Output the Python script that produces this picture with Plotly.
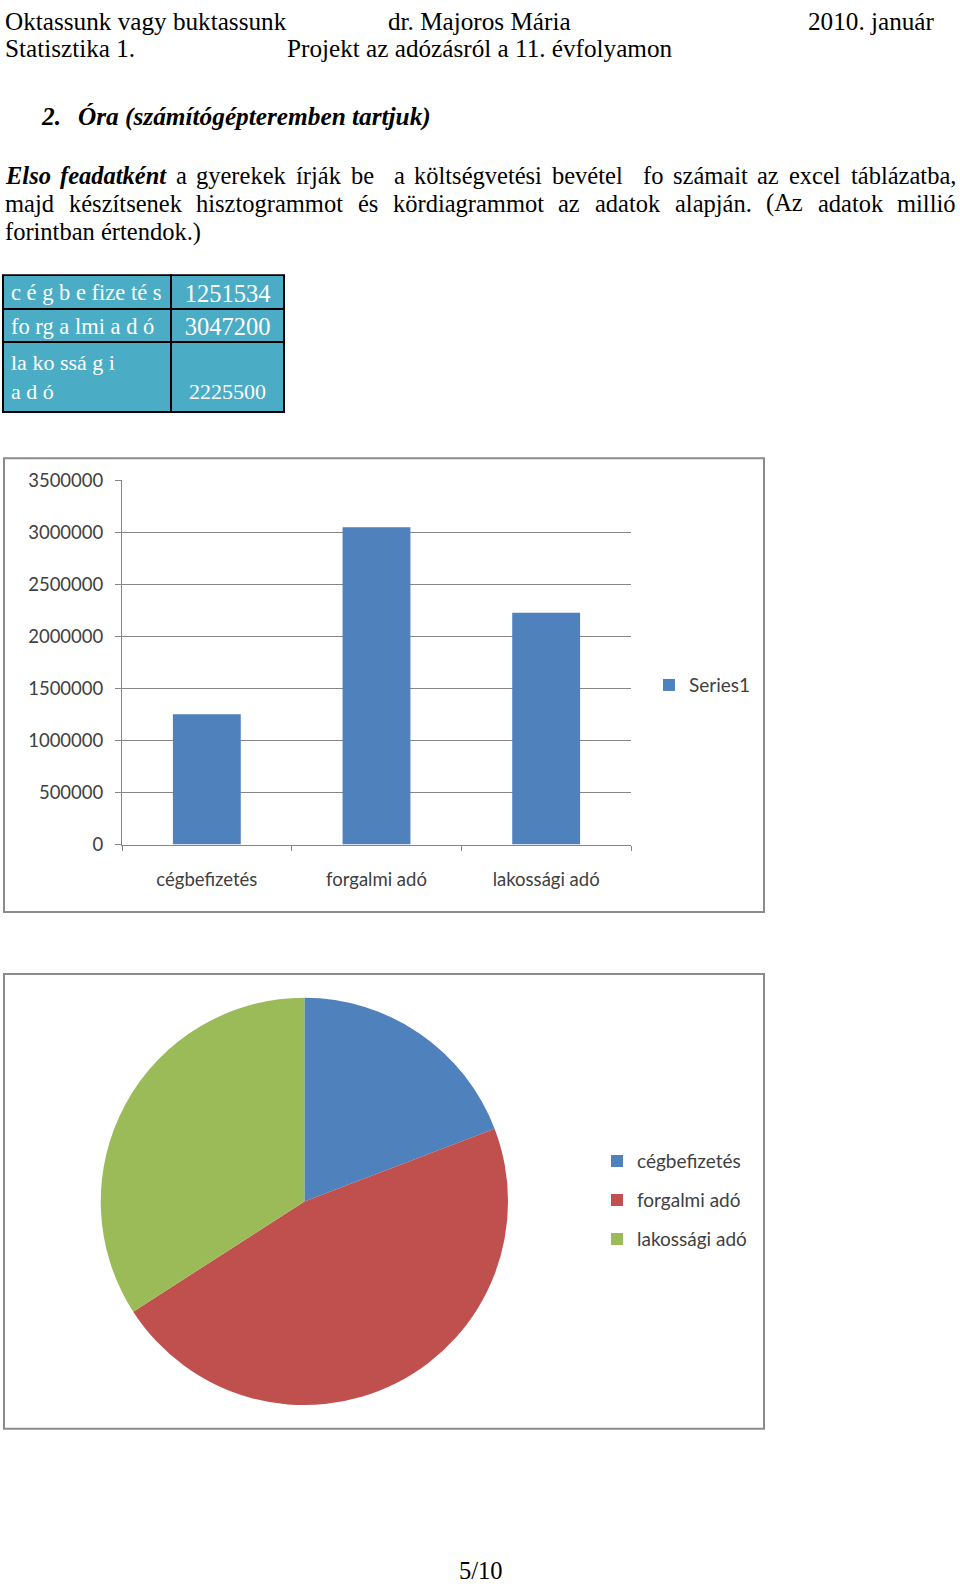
import plotly.graph_objects as go

W, H = 960, 1591

# ---------------- data ----------------
categories = ["cégbefizetés", "forgalmi adó", "lakossági adó"]
values = [1251534, 3047200, 2225500]
series_name = "Series1"
y_tick_values = [0, 500000, 1000000, 1500000, 2000000, 2500000, 3000000, 3500000]
table_labels = ["c é g b e fize té s", "fo rg a lmi a d ó", "la ko ssá g i<br>a d ó"]
table_values = ["1251534", "3047200", "2225500"]
table_value_lines = [1, 1, 2]          # line on which each value sits
bar_color = "#4F81BD"
slice_colors = ["#4F81BD", "#C0504D", "#9BBB59"]

header_line1 = ["Oktassunk vagy buktassunk", "dr. Majoros Mária", "2010. január"]
header_line2 = ["Statisztika 1.", "Projekt az adózásról a 11. évfolyamon"]
title_num = "2."
title_text = "Óra (számítógépteremben tartjuk)"
para_line1 = [("Elso", "bi"), ("feadatként", "bi"), ("a", "r"), ("gyerekek", "r"), ("írják", "r"),
              ("be", "r"), ("", "r"), ("a", "r"), ("költségvetési", "r"), ("bevétel", "r"), ("", "r"),
              ("fo", "r"), ("számait", "r"), ("az", "r"), ("excel", "r"), ("táblázatba,", "r")]
para_line2 = "majd készítsenek hisztogrammot és kördiagrammot az adatok alapján. (Az adatok millió"
para_line3 = "forintban értendok.)"
page_label = "5/10"

# ---------------- helpers ----------------
SERIF = "Liberation Serif, Times New Roman, serif"
SANS = "Lato, Calibri, sans-serif"
TXT = "#404040"
GRID = "#868686"

ROMAN = {' ': 250, ',': 250, '.': 250, '(': 333, ')': 333, '/': 278,
         'A': 722, 'E': 611, 'M': 889, 'O': 722, 'P': 556, 'S': 556, 'Ó': 722,
         'a': 444, 'b': 500, 'c': 444, 'd': 500, 'e': 444, 'f': 333, 'g': 500, 'h': 500,
         'i': 278, 'j': 278, 'k': 500, 'l': 278, 'm': 778, 'n': 500, 'o': 500, 'p': 500,
         'q': 500, 'r': 333, 's': 389, 't': 278, 'u': 500, 'v': 500, 'w': 722, 'x': 500,
         'y': 500, 'z': 444, 'á': 444, 'é': 444, 'í': 278, 'ó': 500, 'ö': 500, 'ő': 500,
         'ú': 500, 'ü': 500, 'ű': 500}
for d in "0123456789":
    ROMAN[d] = 500
BOLDITALIC = {' ': 250, 'E': 667, 'l': 278, 's': 389, 'o': 500, 'f': 333, 'e': 444, 'a': 500,
              'd': 500, 't': 278, 'k': 500, 'é': 444, 'n': 556}

# observed vertical mapping of the capture: shown_y = OFF + SC * figure_y
OFF, SC = 11.67, 0.9865


def text_width(s, size, metrics):
    return sum(metrics.get(ch, 500) for ch in s) * size / 1000.0


def px(x):
    return x / W


def fy(y, lo=13.5, hi=H - 14.5):
    """figure-pixel y that lands on wanted page y, kept inside the figure"""
    return min(max((y - OFF) / SC, lo), hi)


def py(y, lo=0.0, hi=float(H)):
    return 1 - fy(y, lo, hi) / H


annotations = []


def add_text(x, y, text, size=24.5, family=SERIF, color="black", anchor="left", raw=False):
    yy = 1 - y / H if raw else py(y, 13.5, H - 14.5)
    annotations.append(dict(x=px(x), y=yy, xref="paper", yref="paper", text=text,
                            showarrow=False, xanchor=anchor, yanchor="middle",
                            borderpad=0, borderwidth=0,
                            font=dict(family=family, size=size, color=color)))


def justify(tokens, x0, x1, y, size=24.5):
    widths = [text_width(w, size, BOLDITALIC if st == "bi" else ROMAN) for w, st in tokens]
    gap = (x1 - x0 - sum(widths)) / (len(tokens) - 1)
    x = x0
    for (w, st), wd in zip(tokens, widths):
        if w:
            add_text(x, y, f"<b><i>{w}</i></b>" if st == "bi" else w, size)
        x += wd + gap


# ---------------- document text ----------------
HS = 25.2
add_text(5, 9.4, header_line1[0], HS, raw=True)
add_text(388, 9.4, header_line1[1], HS, raw=True)
add_text(808, 9.4, header_line1[2], HS, raw=True)
add_text(5, 37.2, header_line2[0], HS, raw=True)
add_text(287, 37.2, header_line2[1], HS, raw=True)
add_text(41, 116, f"<b><i>{title_num}</i></b>", 25.3)
add_text(78, 116, f"<b><i>{title_text}</i></b>", 25.3)
justify(para_line1, 5, 956, 175)
justify([(w, "r") for w in para_line2.split(" ")], 5, 956, 203)
add_text(5, 231.5, para_line3)
add_text(481, 1580.5, page_label, anchor="center", raw=True)

fig = go.Figure()

# ---------------- table ----------------
NB = "\u00a0"
lab_cells = [t.replace(" ", NB) for t in table_labels]
val_cells = [(NB + "<br>") * (n - 1) + v for v, n in zip(table_values, table_value_lines)]
fig.add_trace(go.Table(
    domain=dict(x=[px(3), px(284)], y=[py(455), py(275)]),
    columnwidth=[168, 113],
    header=dict(values=[lab_cells[:2], val_cells[:2]],
                fill_color="#4BACC6", line=dict(color="black", width=2),
                align=["left", "center"], height=33.5,
                font=dict(family=SERIF, size=[22.5, 24.5], color="white")),
    cells=dict(values=[lab_cells[2:], val_cells[2:]],
               fill_color="#4BACC6", line=dict(color="black", width=2),
               align=["left", "center"], height=20,
               font=dict(family=SERIF, size=[22, 22], color="white")),
))

# ---------------- bar chart ----------------
fig.add_trace(go.Bar(x=categories, y=values, name=series_name, marker_color=bar_color,
                     marker_line_width=0, showlegend=True, legend="legend",
                     xaxis="x", yaxis="y"))

# ---------------- pie chart ----------------
pie_labels = [f'<span style="font-size:19px;baseline-shift:4px">{c}</span>' for c in categories]
pcx, pcy, pr = 304.4, fy(1201.5), 206.5
fig.add_trace(go.Pie(labels=pie_labels, values=values, sort=False, direction="clockwise",
                     rotation=0, textinfo="none", hoverinfo="label+value",
                     marker=dict(colors=slice_colors, line=dict(width=0)),
                     domain=dict(x=[px(pcx - pr), px(pcx + pr)],
                                 y=[1 - (pcy + pr) / H, 1 - (pcy - pr) / H]),
                     legend="legend2", showlegend=True))

shapes = [
    dict(type="rect", xref="paper", yref="paper", x0=px(4), x1=px(764), y0=py(458), y1=py(912),
         line=dict(color="#8c8c8c", width=2), fillcolor="rgba(0,0,0,0)", layer="below"),
    dict(type="rect", xref="paper", yref="paper", x0=px(4), x1=px(764), y0=py(974), y1=py(1429),
         line=dict(color="#8c8c8c", width=2), fillcolor="rgba(0,0,0,0)", layer="below"),
]

fig.update_layout(
    width=W, height=H, autosize=False,
    margin=dict(l=0, r=0, t=0, b=0),
    paper_bgcolor="white", plot_bgcolor="white",
    showlegend=True,
    bargap=0.6,
    xaxis=dict(domain=[px(122), px(631)], anchor="y", type="category",
               showgrid=False, showline=True, linecolor=GRID, linewidth=1,
               ticks="outside", tickson="boundaries", ticklen=5, tickcolor=GRID,
               tickfont=dict(family=SANS, size=18.5, color=TXT), ticklabelstandoff=18,
               fixedrange=True),
    yaxis=dict(domain=[py(844.5), py(480)], anchor="x", range=[0, 3500000],
               tickvals=y_tick_values, tickformat="d",
               showgrid=True, gridcolor=GRID, gridwidth=1, zeroline=False,
               showline=True, linecolor=GRID, linewidth=1,
               ticks="outside", ticklen=6, tickcolor=GRID,
               tickfont=dict(family=SANS, size=18.5, color=TXT), ticklabelstandoff=8,
               fixedrange=True),
    legend=dict(x=px(649), y=py(685), xanchor="left", yanchor="middle",
                font=dict(family=SANS, size=19, color=TXT), bgcolor="rgba(0,0,0,0)"),
    legend2=dict(x=px(597), y=py(1200.5), xanchor="left", yanchor="middle",
                 font=dict(family=SANS, size=27.7, color=TXT), bgcolor="rgba(0,0,0,0)"),
    annotations=annotations,
    shapes=shapes,
)

fig.write_html("out.html")
